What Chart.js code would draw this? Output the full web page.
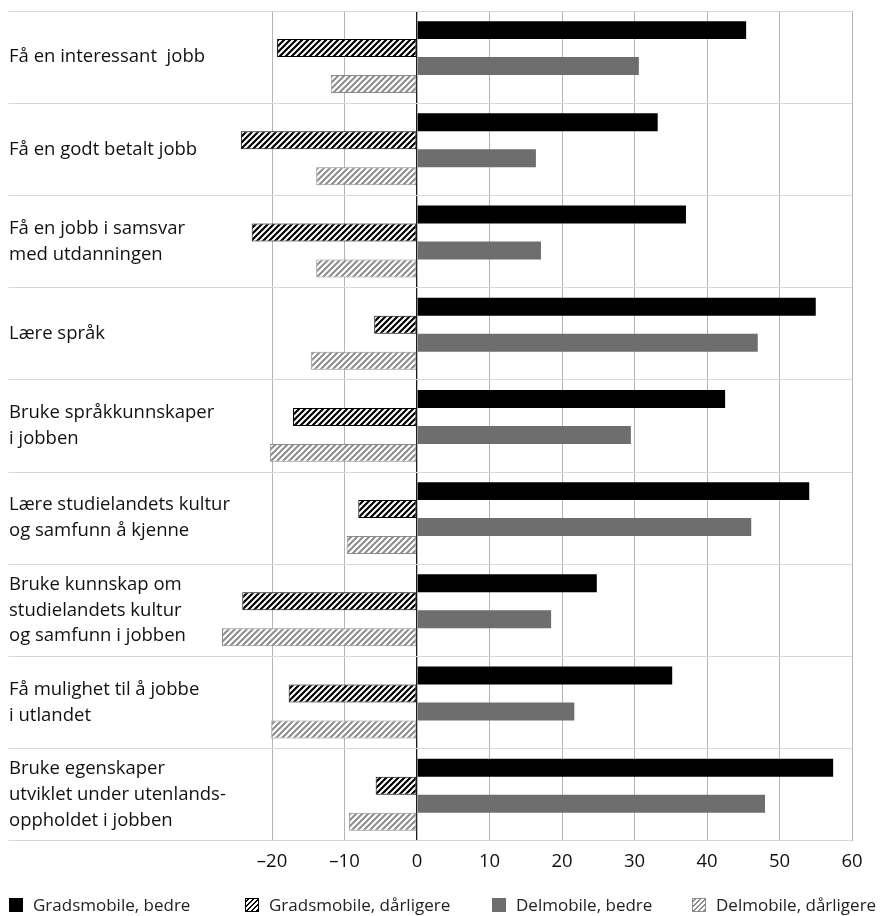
<!DOCTYPE html>
<html>
<head>
<meta charset="utf-8">
<script src="https://cdn.jsdelivr.net/npm/chart.js@4/dist/chart.umd.min.js"></script>
<style>
  html, body { margin: 0; padding: 0; background: #fff; overflow: hidden; }
  #wrap { position: relative; width: 890px; height: 916px; }
  #c { position: absolute; left: 0; top: 0; }
  .lg { position: absolute; top: 894px; height: 22px; line-height: 22px; font-family: 'Open Sans', sans-serif; font-size: 17px; color: #222; white-space: nowrap; }
  .sw { display: inline-block; width: 14px; height: 14px; box-sizing: border-box; vertical-align: -1px; margin-right: 10px; }
</style>
</head>
<body>
<div id="wrap">
  <canvas id="c" width="890" height="916"></canvas>
  <div class="lg" style="left:9px"><span class="sw" style="background:#000"></span>Gradsmobile, bedre</div>
  <div class="lg" style="left:245px"><span class="sw" style="border:1px solid #000;background:repeating-linear-gradient(-45deg,#000 0 1.6px,#fff 1.6px 3.6px)"></span>Gradsmobile, dårligere</div>
  <div class="lg" style="left:492px"><span class="sw" style="background:#6e6e6e"></span>Delmobile, bedre</div>
  <div class="lg" style="left:692px"><span class="sw" style="border:1px solid #8c8c8c;background:repeating-linear-gradient(-45deg,#8c8c8c 0 1.6px,#fff 1.6px 3.6px)"></span>Delmobile, dårligere</div>
</div>
<script>
const categories = [
  "Få en interessant  jobb",
  "Få en godt betalt jobb",
  ["Få en jobb i samsvar", "med utdanningen"],
  "Lære språk",
  ["Bruke språkkunnskaper", "i jobben"],
  ["Lære studielandets kultur", "og samfunn å kjenne"],
  ["Bruke kunnskap om", "studielandets kultur", "og samfunn i jobben"],
  ["Få mulighet til å jobbe", "i utlandet"],
  ["Bruke egenskaper", "utviklet under utenlands-", "oppholdet i jobben"]
];
const seriesNames = ["Gradsmobile, bedre", "Gradsmobile, dårligere", "Delmobile, bedre", "Delmobile, dårligere"];
const gradsBedre     = [45.4, 33.2, 37.1, 55.0, 42.5, 54.1, 24.8, 35.2, 57.4];
const gradsDarligere = [-19.3, -24.3, -22.8, -5.9, -17.1, -8.1, -24.1, -17.7, -5.7];
const delBedre       = [30.6, 16.4, 17.1, 47.0, 29.5, 46.1, 18.5, 21.7, 48.0];
const delDarligere   = [-11.9, -13.9, -13.9, -14.6, -20.3, -9.7, -26.9, -20.1, -9.4];
const xMin = -30, xMax = 60, xStep = 10;

const canvas = document.getElementById('c');
const ctx = canvas.getContext('2d');
function makeHatch(lineColor, lw) {
  const s = 6;
  const p = document.createElement('canvas');
  p.width = s; p.height = s;
  const g = p.getContext('2d');
  g.fillStyle = '#fff'; g.fillRect(0, 0, s, s);
  g.strokeStyle = lineColor; g.lineWidth = lw;
  g.beginPath();
  g.moveTo(-1, s + 1); g.lineTo(s + 1, -1);
  g.moveTo(-s / 2 - 1, s / 2 + 1); g.lineTo(s / 2 + 1, -s / 2 - 1);
  g.moveTo(s / 2 - 1, s * 1.5 + 1); g.lineTo(s * 1.5 + 1, s / 2 - 1);
  g.stroke();
  return ctx.createPattern(p, 'repeat');
}
const hatchBlack = makeHatch('#000', 2.2);
const hatchGray = makeHatch('#8c8c8c', 2.0);

const FONT = "'Open Sans', sans-serif";
new Chart(canvas, {
  type: 'bar',
  data: {
    labels: categories,
    datasets: [
      { label: seriesNames[0], data: gradsBedre, backgroundColor: '#000', borderWidth: 0 },
      { label: seriesNames[1], data: gradsDarligere, backgroundColor: hatchBlack, borderColor: '#000', borderWidth: 1, borderSkipped: false },
      { label: seriesNames[2], data: delBedre, backgroundColor: '#6e6e6e', borderWidth: 0 },
      { label: seriesNames[3], data: delDarligere, backgroundColor: hatchGray, borderColor: '#8c8c8c', borderWidth: 1, borderSkipped: false }
    ]
  },
  options: {
    indexAxis: 'y',
    responsive: false,
    animation: false,
    devicePixelRatio: 1,
    datasets: { bar: { categoryPercentage: 0.78, barPercentage: 1.0 } },
    layout: { padding: { left: 9, right: 38, top: 11, bottom: 33 } },
    plugins: { legend: { display: false }, tooltip: { enabled: false } },
    scales: {
      x: {
        type: 'linear', min: xMin, max: xMax,
        afterFit: (s) => { s.paddingLeft = 0; s.paddingRight = 0; },
        ticks: {
          stepSize: xStep, padding: 10, color: '#111',
          font: { family: FONT, size: 18.5 },
          callback: (v) => v === xMin ? null : (v < 0 ? '\u2013' + Math.abs(v) : String(v))
        },
        grid: {
          drawTicks: false,
          color: (c) => c.tick && c.tick.value === 0 ? '#1a1a1a' : '#b4b4b4',
          lineWidth: (c) => c.tick && c.tick.value === 0 ? 1.3 : 1
        },
        border: { display: false }
      },
      y: {
        type: 'category',
        afterFit: (s) => {
          s.width = 190.5;
          s.paddingTop = 0; s.paddingBottom = 0;
          s._computeLabelArea = () => undefined;
        },
        ticks: {
          crossAlign: 'far', color: '#111',
          font: { family: FONT, size: 18.5, lineHeight: 1.4 }
        },
        grid: { offset: true, color: '#d9d9d9', drawTicks: true, tickLength: 191 },
        border: { display: false }
      }
    }
  }
});
</script>
</body>
</html>
